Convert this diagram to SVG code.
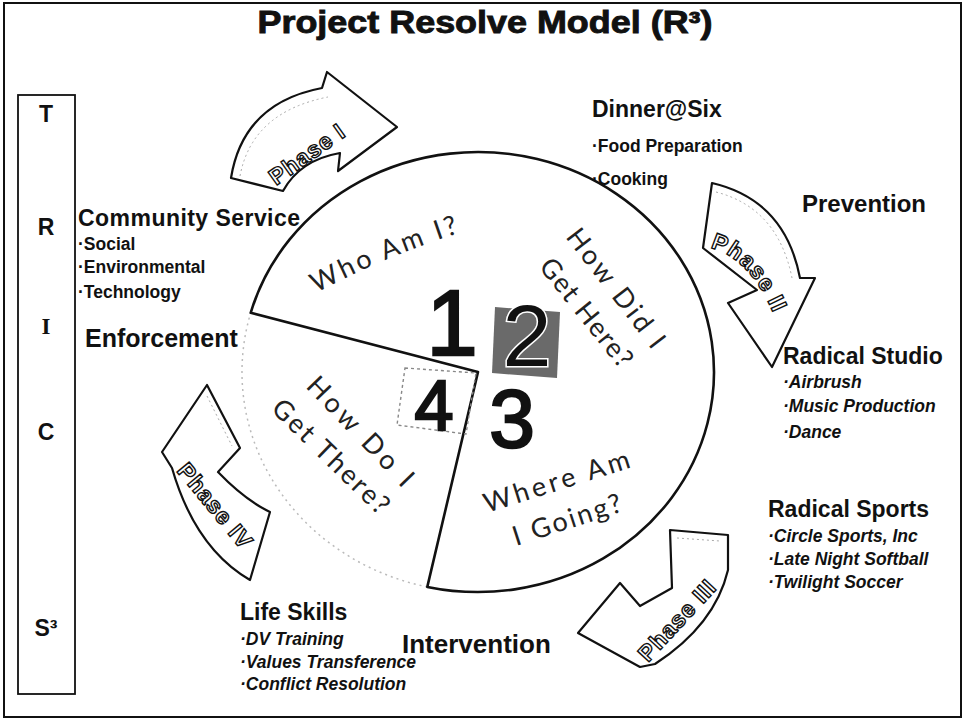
<svg xmlns="http://www.w3.org/2000/svg" width="965" height="723" viewBox="0 0 965 723">
<style>
.lbl{font-family:"Liberation Sans",Arial,sans-serif;font-weight:bold;fill:#111}
.hd{font-size:23px}
.big{font-size:25px}
.item{font-size:17.5px}
.it{font-style:italic}
.tr{font-family:"Liberation Sans",Arial,sans-serif;font-weight:bold;font-size:23px;fill:#111;text-anchor:middle}
.ph{font-family:"Liberation Sans",Arial,sans-serif;font-weight:bold;font-size:23px;fill:#fff;stroke:#111;stroke-width:1.4;letter-spacing:1px}
.q{font-family:Lato,"Open Sans","DejaVu Sans",sans-serif;font-size:27px;fill:#222}
.num{font-family:"Liberation Sans",Arial,sans-serif;fill:#111;stroke:#111;stroke-width:2.5;text-anchor:middle}
.arrow{fill:#fff;stroke:#111;stroke-width:2.2;stroke-linejoin:round}
.arrow-in{fill:none;stroke:#aaa;stroke-width:1;stroke-dasharray:2 3}
.pie{fill:#fff;stroke:#111;stroke-width:2.6;stroke-linejoin:round}
</style>

<rect x="4" y="3" width="957" height="714" fill="#fff" stroke="#111" stroke-width="2"/>

<g id="title">
<text class="lbl" x="485" y="33" font-size="31" text-anchor="middle" textLength="455" lengthAdjust="spacingAndGlyphs" stroke="#111" stroke-width="0.9">Project Resolve Model (R³)</text>
</g>

<g id="trics">
<rect x="18" y="95" width="57" height="599" fill="#fff" stroke="#111" stroke-width="1.8"/>
<text class="tr" x="46" y="122">T</text>
<text class="tr" x="46" y="235">R</text>
<text class="tr" x="46" y="334" style="font-family:'Liberation Serif',serif">I</text>
<text class="tr" x="46" y="440">C</text>
<text class="tr" x="46" y="636">S³</text>
</g>

<g id="pie">
<g id="q4">
<path d="M478,372 L250.7,312.8 A236 220 0 0 0 427.3,586.9 Z" fill="#fff" stroke="#bbb" stroke-width="1.5" stroke-dasharray="2 4"/>
<text class="q" transform="translate(305,387) rotate(46.1)" letter-spacing="4">How Do I</text>
<text class="q" transform="translate(270,410) rotate(44.2)" letter-spacing="2.5">Get There?</text>
</g>
<path class="pie" d="M250.7,312.8 A236 220 0 1 1 427.3,586.9 L478,372 Z"/>
<g id="q1">
<path id="whoPath" d="M316,293 Q388,255 468,230" fill="none"/>
<text class="q" letter-spacing="3"><textPath href="#whoPath">Who Am I?</textPath></text>
</g>
<g id="q2">
<text class="q" transform="translate(565,237) rotate(52.4)" letter-spacing="3">How Did I</text>
<text class="q" transform="translate(538,267) rotate(51.3)" letter-spacing="1.5">Get Here?</text>
</g>
<g id="q3">
<text class="q" transform="translate(487,513) rotate(-17.5)" letter-spacing="3.5">Where Am</text>
<text class="q" transform="translate(516,546) rotate(-18)" letter-spacing="2.3">I Going?</text>
</g>
<g id="numbers">
<polygon points="495,307 560,312 557,378 492,373" fill="#6a6a6a"/>
<polygon points="405,368 476,373 466,434 397,425" fill="none" stroke="#888" stroke-width="1.4" stroke-dasharray="3 3"/>
<text class="num" x="452" y="355" font-size="92">1</text>
<text class="num" x="527" y="366" font-size="88" style="stroke:#fff;stroke-width:3;paint-order:stroke;fill:#111">2</text>
<text class="num" x="512" y="447" font-size="82">3</text>
<text class="num" x="434" y="430" font-size="70">4</text>
</g>
</g>

<g id="connectors">
<g id="phase1">
<path class="arrow" d="M231,178 Q243,103 322,88 L327,72 L397,127 L338,171 L340,153 Q300,160 283,191 Z"/>
<path class="arrow-in" d="M240,176 Q252,112 328,97"/>
<text class="ph" transform="translate(276,186) rotate(-35.5)">Phase I</text>
</g>
<g id="phase2">
<path class="arrow" d="M712,183 Q785,200 800,278 L815,278 L772,367 L728,303 L757,290 L703,248 Z"/>
<path class="arrow-in" d="M716,192 Q778,208 792,278"/>
<path id="p2path" d="M710,248 Q752,258 777,322" fill="none"/>
<text class="ph"><textPath href="#p2path">Phase II</textPath></text>
</g>
<g id="phase3">
<path class="arrow" d="M670,530 L728,535 L728,570 Q715,625 655,664 L640,667 L578,633 L620,583 L640,606 L672,588 Z"/>
<path class="arrow-in" d="M677,538 L720,541"/>
<text class="ph" transform="translate(648,663) rotate(-47)">Phase III</text>
</g>
<g id="phase4">
<path class="arrow" d="M207,385 L240,448 L218,472 Q245,500 270,512 L250,580 Q195,548 172,468 L162,452 Z"/>
<path class="arrow-in" d="M207,396 L232,446"/>
<text class="ph" transform="translate(176,471) rotate(50.4)">Phase IV</text>
</g>
</g>

<g id="community-service">
<text class="lbl hd" x="78" y="226" textLength="222">Community Service</text>
<text class="lbl item" x="78" y="250">·Social</text>
<text class="lbl item" x="78" y="273">·Environmental</text>
<text class="lbl item" x="78" y="298">·Technology</text>
</g>
<g id="enforcement"><text class="lbl big" x="85" y="347">Enforcement</text></g>

<g id="dinner">
<text class="lbl hd" x="592" y="117">Dinner@Six</text>
<text class="lbl item" x="592" y="152">·Food Preparation</text>
<text class="lbl item" x="592" y="185">·Cooking</text>
</g>
<g id="prevention"><text class="lbl" x="802" y="212" style="font-size:24px">Prevention</text></g>

<g id="radical-studio">
<text class="lbl hd" x="783" y="364">Radical Studio</text>
<text class="lbl item it" x="783" y="388">·Airbrush</text>
<text class="lbl item it" x="783" y="412">·Music Production</text>
<text class="lbl item it" x="783" y="438">·Dance</text>
</g>

<g id="radical-sports">
<text class="lbl hd" x="768" y="517">Radical Sports</text>
<text class="lbl item it" x="768" y="542">·Circle Sports, Inc</text>
<text class="lbl item it" x="768" y="565">·Late Night Softball</text>
<text class="lbl item it" x="768" y="588">·Twilight Soccer</text>
</g>

<g id="intervention"><text class="lbl" x="402" y="653" style="font-size:26px">Intervention</text></g>

<g id="life-skills">
<text class="lbl hd" x="240" y="620">Life Skills</text>
<text class="lbl item it" x="240" y="645">·DV Training</text>
<text class="lbl item it" x="240" y="668">·Values Transference</text>
<text class="lbl item it" x="240" y="690">·Conflict Resolution</text>
</g>
</svg>
